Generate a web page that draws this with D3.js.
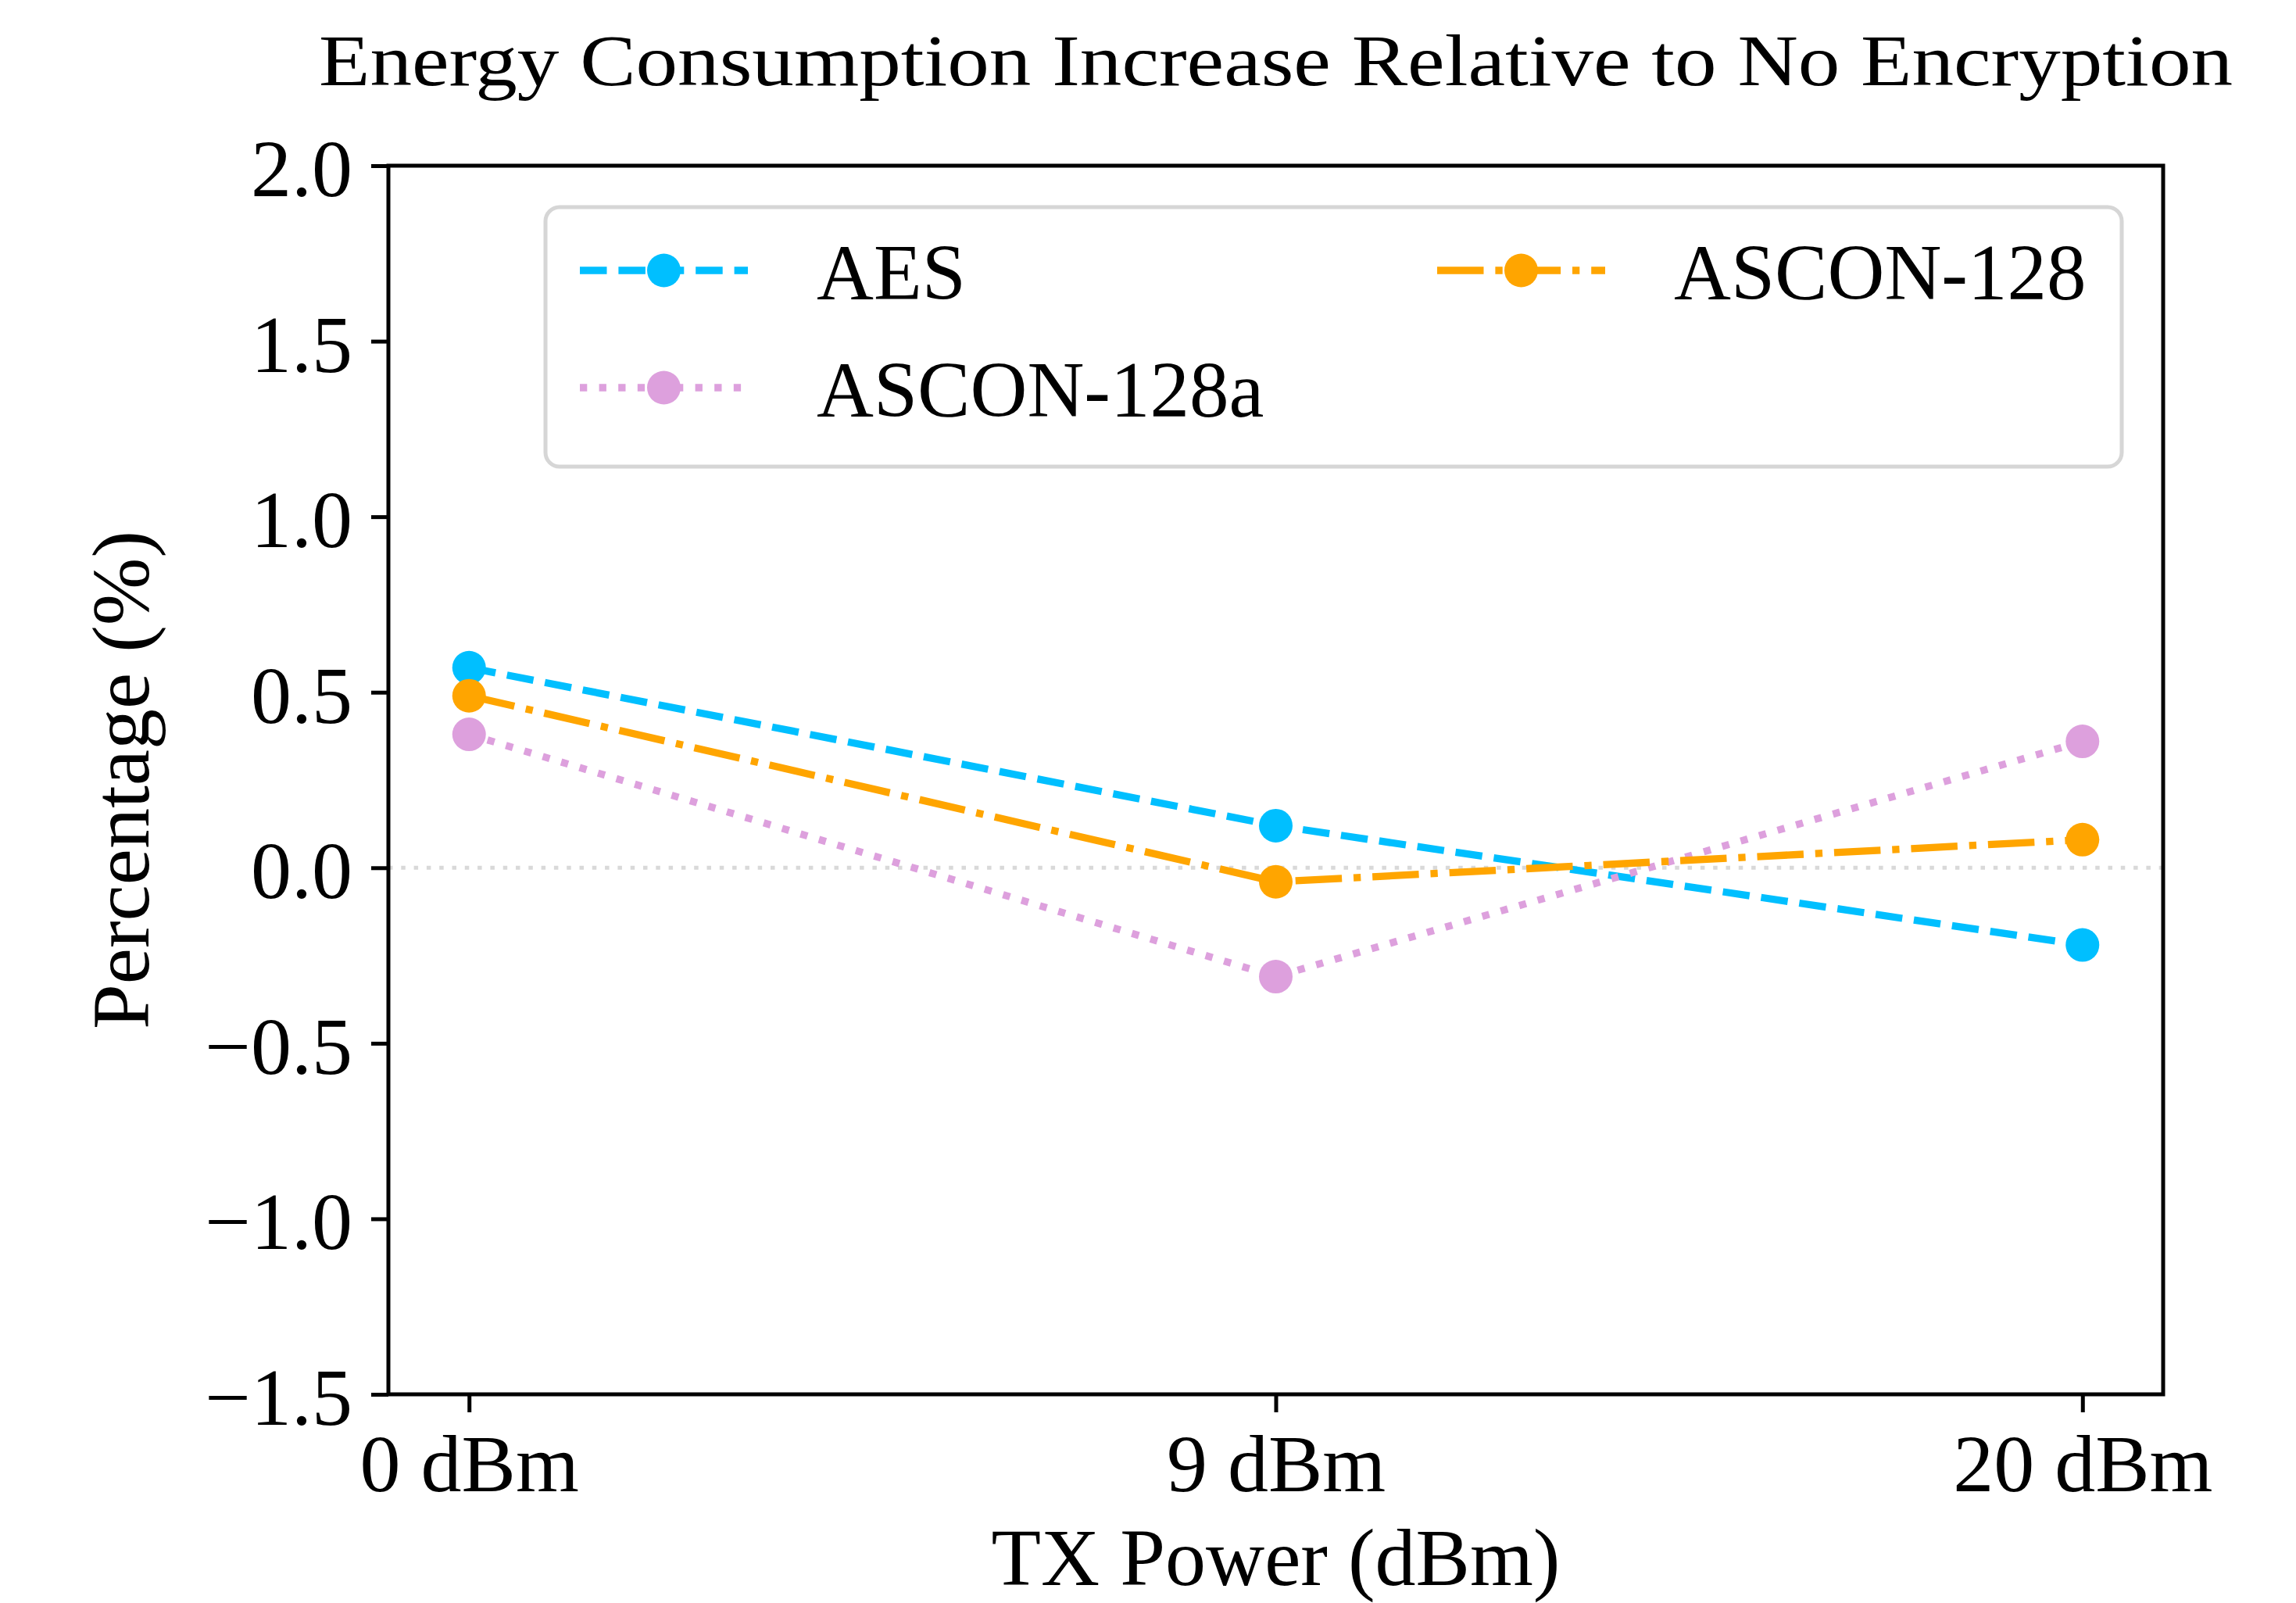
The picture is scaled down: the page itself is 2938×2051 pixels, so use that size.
<!DOCTYPE html>
<html>
<head>
<meta charset="utf-8">
<script src="https://cdn.jsdelivr.net/npm/d3@7"></script>
<style>
  body { margin: 0; background: #fff; }
  text { font-family: "Liberation Serif", "DejaVu Serif", serif; fill: #000; }
</style>
</head>
<body>
<div id="chart"></div>
<script>
// data
const categories = ["0 dBm", "9 dBm", "20 dBm"];
const aesValues = [0.57, 0.12, -0.22];
const ascon128aValues = [0.38, -0.31, 0.36];
const ascon128Values = [0.49, -0.04, 0.08];
const yTicks = [-1.5, -1.0, -0.5, 0.0, 0.5, 1.0, 1.5, 2.0];

const series = [
  { name: "AES", values: aesValues, color: "#00BFFF", dash: "34.5,14.9" },
  { name: "ASCON-128a", values: ascon128aValues, color: "#DDA0DD", dash: "9.3,15.3" },
  { name: "ASCON-128", values: ascon128Values, color: "#FFA500", dash: "59.5,14.9,9.3,14.9" }
];

const W = 2938, H = 2051;
const margin = { top: 212, right: 170, bottom: 267, left: 497 };
const plotW = W - margin.left - margin.right,
      plotH = H - margin.top - margin.bottom;
const fs = 104, lw = 9.3, r = 21.5;

const svg = d3.select("#chart").append("svg")
  .attr("width", W).attr("height", H);

const x = d3.scalePoint().domain(categories).range([0, plotW]).padding(0.1);
const y = d3.scaleLinear().domain([-1.5, 2.0]).range([plotH, 0]);

const g = svg.append("g").attr("transform", "translate(" + margin.left + "," + margin.top + ")");

// zero reference line
g.append("line")
  .attr("x1", 0).attr("x2", plotW)
  .attr("y1", y(0)).attr("y2", y(0))
  .attr("stroke", "#d9d9d9").attr("stroke-width", 5)
  .attr("stroke-dasharray", "5.5,10.8");

const line = d3.line()
  .x((d, i) => x(categories[i]))
  .y(d => y(d));

series.forEach(s => {
  g.append("path")
    .datum(s.values)
    .attr("d", line)
    .attr("fill", "none")
    .attr("stroke", s.color)
    .attr("stroke-width", lw)
    .attr("stroke-dasharray", s.dash);
  g.selectAll(null).data(s.values).enter().append("circle")
    .attr("cx", (d, i) => x(categories[i]))
    .attr("cy", d => y(d))
    .attr("r", r)
    .attr("fill", s.color);
});

// axes
const fmt = d => (d < 0 ? "\u2212" : "") + Math.abs(d).toFixed(1);
const yAxis = g.append("g")
  .call(d3.axisLeft(y).tickValues(yTicks).tickFormat(fmt).tickSize(22).tickPadding(24));
const xAxis = g.append("g")
  .attr("transform", "translate(0," + plotH + ")")
  .call(d3.axisBottom(x).tickSize(23).tickPadding(26));

[yAxis, xAxis].forEach(a => {
  a.select(".domain").remove();
  a.selectAll(".tick line").attr("stroke", "#000").attr("stroke-width", 5);
  a.selectAll(".tick text")
    .attr("font-size", fs)
    .style("font-family", "'Liberation Serif', serif");
});
yAxis.selectAll(".tick text").attr("dy", "0.37em");
xAxis.selectAll(".tick text").attr("dy", "0.72em");

// frame
g.append("rect")
  .attr("width", plotW).attr("height", plotH)
  .attr("fill", "none").attr("stroke", "#000").attr("stroke-width", 5);

// title and axis labels
svg.append("text")
  .attr("x", margin.left + plotW / 2).attr("y", 109)
  .attr("text-anchor", "middle")
  .attr("font-size", 94)
  .attr("textLength", 2449).attr("lengthAdjust", "spacingAndGlyphs")
  .text("Energy Consumption Increase Relative to No Encryption");

svg.append("text")
  .attr("x", margin.left + plotW / 2).attr("y", 2028)
  .attr("text-anchor", "middle")
  .attr("font-size", fs)
  .text("TX Power (dBm)");

svg.append("text")
  .attr("transform", "translate(190," + (margin.top + plotH / 2) + ") rotate(-90)")
  .attr("text-anchor", "middle")
  .attr("font-size", fs)
  .text("Percentage (%)");

// legend
const legend = svg.append("g");
legend.append("rect")
  .attr("x", 698).attr("y", 265)
  .attr("width", 2715 - 698).attr("height", 597 - 265)
  .attr("rx", 18)
  .attr("fill", "#fff").attr("fill-opacity", 0.8)
  .attr("stroke", "#d6d6d6").attr("stroke-width", 5);

const legendPos = [
  { lx: 742, ty: 346 },   // AES
  { lx: 742, ty: 496 },   // ASCON-128a
  { lx: 1839, ty: 346 }   // ASCON-128
];
series.forEach((s, i) => {
  const p = legendPos[i];
  const item = legend.append("g");
  item.append("line")
    .attr("x1", p.lx).attr("x2", p.lx + 215)
    .attr("y1", p.ty).attr("y2", p.ty)
    .attr("stroke", s.color).attr("stroke-width", lw)
    .attr("stroke-dasharray", s.dash);
  item.append("circle")
    .attr("cx", p.lx + 107.5).attr("cy", p.ty).attr("r", r)
    .attr("fill", s.color);
  item.append("text")
    .attr("x", p.lx + 303).attr("y", p.ty + 37)
    .attr("font-size", 101)
    .text(s.name);
});
</script>
</body>
</html>
